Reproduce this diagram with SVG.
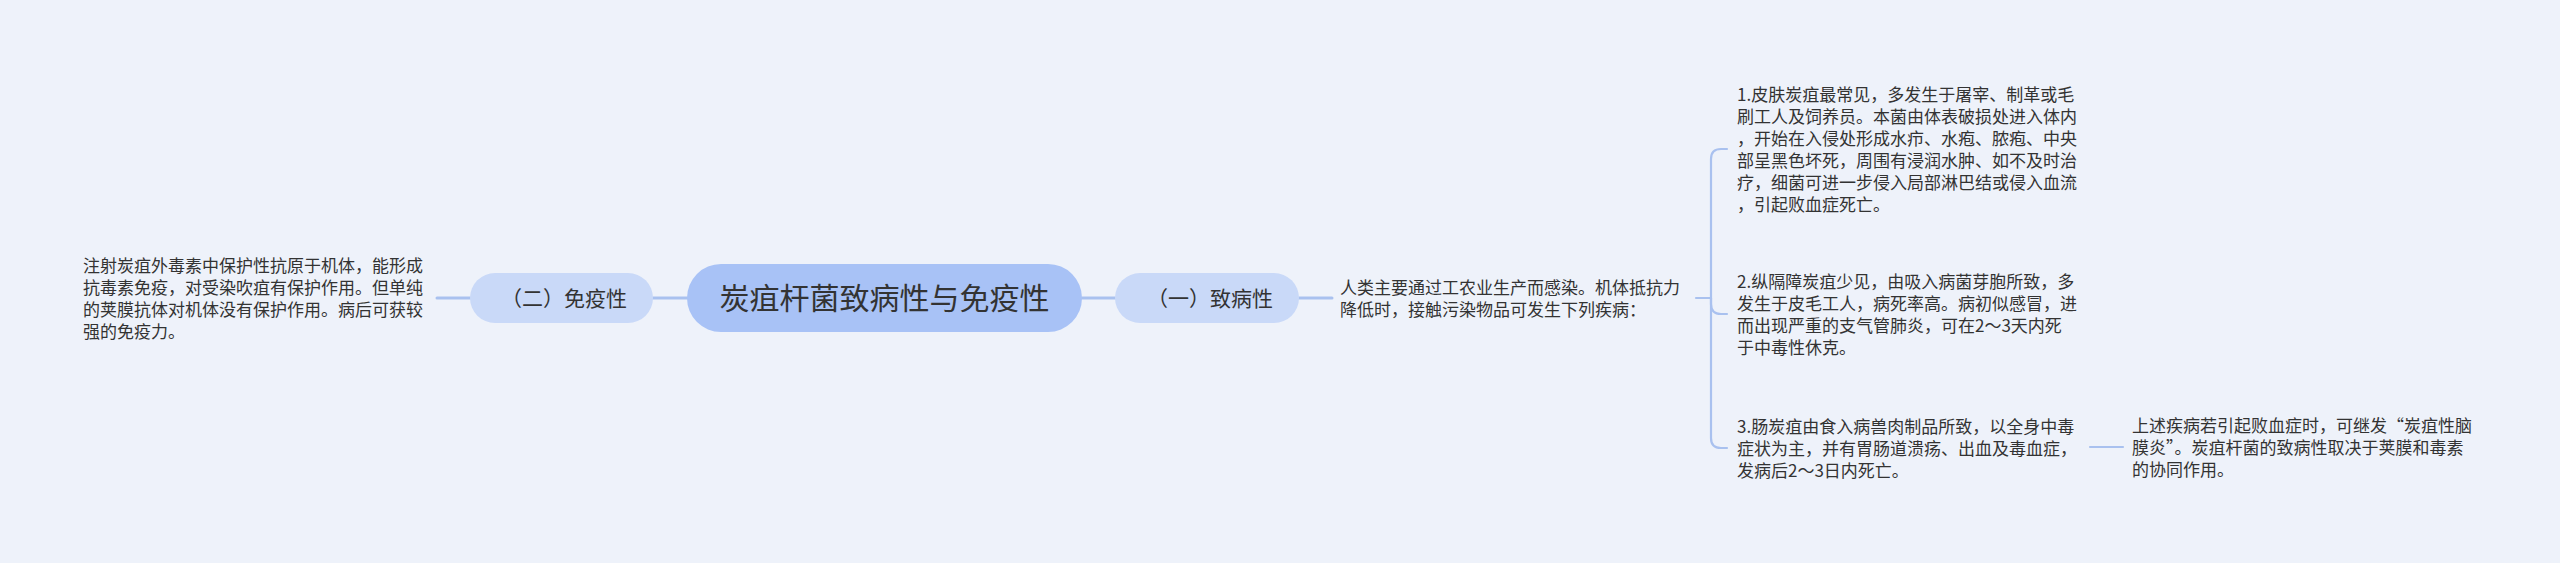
<svg xmlns="http://www.w3.org/2000/svg" width="2560" height="563" viewBox="0 0 2560 563">
<style>
.t{font-family:"Noto Sans CJK SC","Noto Sans",sans-serif;font-size:17px;fill:#333}
.n{font-family:"Noto Sans CJK SC","Noto Sans",sans-serif;font-size:21px;fill:#333;text-anchor:middle}
.c{font-family:"Noto Sans CJK SC","Noto Sans",sans-serif;font-size:30px;fill:#333;text-anchor:middle}
.l{fill:none;stroke:#a9c1ef;stroke-width:3;stroke-linecap:round}
.b{fill:none;stroke:#a9c1ef;stroke-width:2.2;stroke-linecap:round}
</style>
<rect width="2560" height="563" fill="#eef2fa"/>
<g id="connectors">
<path class="l" d="M653,298 H687"/>
<path class="l" d="M437,298 H470"/>
<path class="l" d="M1082,298 H1115"/>
<path class="l" d="M1299,298 H1332"/>
<path class="b" d="M1696,298 H1711"/>
<path class="b" d="M1711,298 V159 Q1711,149 1721,149 H1727"/>
<path class="b" d="M1711,298 V304 Q1711,314 1721,314 H1727"/>
<path class="b" d="M1711,298 V438 Q1711,448 1721,448 H1727"/>
<path class="b" d="M2090,447 H2123"/>
</g>
<g id="root">
<rect x="687" y="264" width="395" height="68" rx="34" fill="#a8c2f6"/>
<text class="c" x="884.5" y="309">炭疽杆菌致病性与免疫性</text>
</g>
<g id="immunity">
<rect x="470" y="273" width="183" height="50" rx="25" fill="#c9d9f8"/>
<text class="n" x="564" y="305.5">（二）免疫性</text>
</g>
<g id="immunity-text">
<text class="t"><tspan x="83" y="271.5">注射炭疽外毒素中保护性抗原于机体，能形成</tspan><tspan x="83" y="293.5">抗毒素免疫，对受染吹疽有保护作用。但单纯</tspan><tspan x="83" y="315.5">的荚膜抗体对机体没有保护作用。病后可获较</tspan><tspan x="83" y="337.5">强的免疫力。</tspan></text>
</g>
<g id="pathogenicity">
<rect x="1115" y="273" width="184" height="50" rx="25" fill="#c9d9f8"/>
<text class="n" x="1210" y="305.5">（一）致病性</text>
</g>
<g id="pathogenicity-text">
<text class="t"><tspan x="1340" y="293.5">人类主要通过工农业生产而感染。机体抵抗力</tspan><tspan x="1340" y="315.5">降低时，接触污染物品可发生下列疾病：</tspan></text>
</g>
<g id="item1">
<text class="t"><tspan x="1737" y="100.5">1.皮肤炭疽最常见，多发生于屠宰、制革或毛</tspan><tspan x="1737" y="122.5">刷工人及饲养员。本菌由体表破损处进入体内</tspan><tspan x="1737" y="144.5">，开始在入侵处形成水疖、水疱、脓疱、中央</tspan><tspan x="1737" y="166.5">部呈黑色坏死，周围有浸润水肿、如不及时治</tspan><tspan x="1737" y="188.5">疗，细菌可进一步侵入局部淋巴结或侵入血流</tspan><tspan x="1737" y="210.5">，引起败血症死亡。</tspan></text>
</g>
<g id="item2">
<text class="t"><tspan x="1737" y="287.5">2.纵隔障炭疽少见，由吸入病菌芽胞所致，多</tspan><tspan x="1737" y="309.5">发生于皮毛工人，病死率高。病初似感冒，进</tspan><tspan x="1737" y="331.5">而出现严重的支气管肺炎，可在2～3天内死</tspan><tspan x="1737" y="353.5">于中毒性休克。</tspan></text>
</g>
<g id="item3">
<text class="t"><tspan x="1737" y="432.5">3.肠炭疽由食入病兽肉制品所致，以全身中毒</tspan><tspan x="1737" y="454.5">症状为主，并有胃肠道溃疡、出血及毒血症，</tspan><tspan x="1737" y="476.5">发病后2～3日内死亡。</tspan></text>
</g>
<g id="item3-note">
<text class="t"><tspan x="2132" y="431.5">上述疾病若引起败血症时，可继发“炭疽性脑</tspan><tspan x="2132" y="453.5">膜炎”。炭疽杆菌的致病性取决于荚膜和毒素</tspan><tspan x="2132" y="475.5">的协同作用。</tspan></text>
</g>
</svg>
